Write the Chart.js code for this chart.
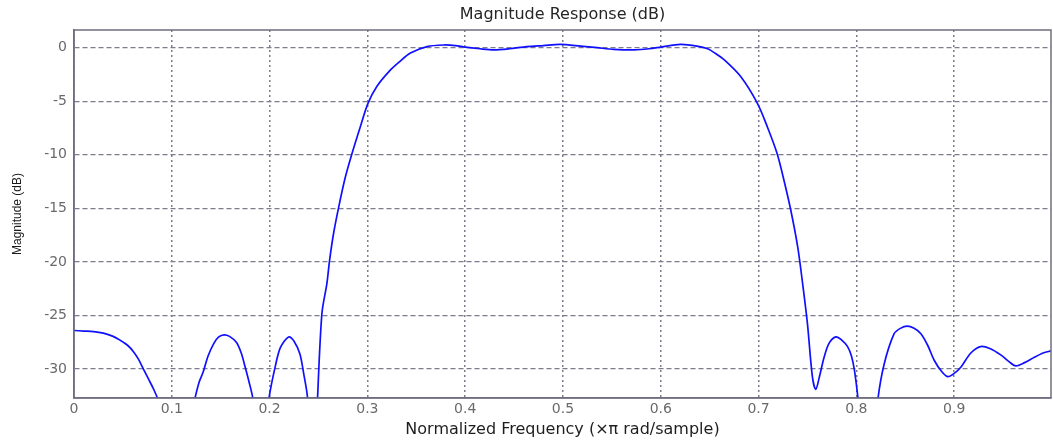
<!DOCTYPE html>
<html>
<head>
<meta charset="utf-8">
<script src="https://cdn.jsdelivr.net/npm/chart.js@4.4.1/dist/chart.umd.min.js"></script>
<style>
  body { margin: 0; background: #fff; }
  #wrap { width: 1053px; height: 443px; }
</style>
</head>
<body>
<div id="wrap"><canvas id="chart" width="1053" height="443"></canvas></div>
<script>
// normalized frequency (x pi rad/sample)
const freqs = [
  0, 0.01, 0.02, 0.03, 0.04, 0.047, 0.055, 0.061, 0.066, 0.071, 0.076, 0.081, 0.086,
  0.092, 0.098, 0.105, 0.112, 0.118, 0.124, 0.128, 0.132, 0.137, 0.143, 0.148, 0.1535,
  0.159, 0.166, 0.171, 0.175, 0.179, 0.183, 0.187, 0.191, 0.195, 0.1996, 0.2057, 0.211,
  0.2194, 0.225, 0.231, 0.235, 0.2388, 0.242, 0.245, 0.247, 0.249, 0.2535, 0.2586, 0.2614,
  0.2655, 0.2706, 0.2774, 0.2842, 0.2927, 0.3006, 0.3098, 0.3234, 0.333, 0.344, 0.361,
  0.378, 0.39, 0.4, 0.415, 0.429, 0.445, 0.463, 0.48, 0.497, 0.518, 0.535, 0.552, 0.573,
  0.588, 0.6, 0.62, 0.637, 0.648, 0.656, 0.665, 0.6817, 0.6988, 0.709, 0.719, 0.726,
  0.733, 0.74, 0.745, 0.75, 0.755, 0.7585, 0.762, 0.767, 0.772, 0.779, 0.785, 0.791,
  0.795, 0.798, 0.8017, 0.806, 0.812, 0.818, 0.822, 0.8285, 0.8386, 0.845, 0.852, 0.859,
  0.866, 0.873, 0.8797, 0.887, 0.8933, 0.9, 0.907, 0.917, 0.927, 0.937, 0.948, 0.956,
  0.963, 0.972, 0.982, 0.991, 0.999
];

// magnitude (dB)
const magnitudes = [
  -26.4, -26.45, -26.5, -26.65, -26.95, -27.3, -27.8, -28.4, -29.1, -30.0, -30.9, -31.8, -32.9,
  -35.5, -40, -48, -40, -35, -32.6, -31.2, -30.3, -28.8, -27.6, -27.0, -26.8,
  -26.95, -27.5, -28.5, -29.8, -31.2, -32.8, -36, -42, -36, -32.6, -29.8, -28.0,
  -27.0, -27.4, -28.6, -30.5, -32.7, -40, -45, -38, -32.8, -24.8, -22.0, -19.8,
  -17.3, -14.9, -12.1, -9.9, -7.4, -5.2, -3.6, -2.1, -1.3, -0.5, 0.1,
  0.25, 0.2, 0.05, -0.1, -0.2, -0.1, 0.1, 0.2, 0.3, 0.15, 0.0, -0.15, -0.2,
  -0.1, 0.05, 0.3, 0.15, -0.1, -0.55, -1.15, -2.7, -5.2, -7.4, -9.9, -12.4,
  -15.2, -18.6, -22.0, -25.8, -30.7, -31.9, -30.8, -28.9, -27.6, -27.0, -27.3, -27.9,
  -28.8, -30.1, -32.8, -37, -45, -37, -32.8, -29.5, -26.7, -26.2, -26.0, -26.2,
  -26.7, -27.8, -29.2, -30.2, -30.7, -30.4, -29.8, -28.5, -27.9, -28.1, -28.7, -29.3,
  -29.7, -29.4, -28.9, -28.5, -28.3
];

const xTicks = [0, 0.1, 0.2, 0.3, 0.4, 0.5, 0.6, 0.7, 0.8, 0.9];
const yTicks = [0, -5, -10, -15, -20, -25, -30];
const chartTitle = 'Magnitude Response (dB)';

const axisColor = '#6f6f80';
const gridColor = '#7c7c8c';
const tickColor = '#6a6a6a';
const font = "'DejaVu Sans', Verdana, sans-serif";

// box around the plot area + title centred over it, like matlab
const frameBox = {
  id: 'frameBox',
  afterDraw(chart) {
    const { ctx, chartArea: a } = chart;
    ctx.save();
    ctx.strokeStyle = axisColor;
    ctx.lineWidth = 1.5;
    ctx.strokeRect(a.left, a.top, a.right - a.left, a.bottom - a.top);
    ctx.fillStyle = '#262626';
    ctx.font = '16px ' + font;
    ctx.textAlign = 'center';
    ctx.textBaseline = 'middle';
    ctx.fillText(chartTitle, (a.left + a.right) / 2, 15);
    ctx.restore();
  }
};

new Chart(document.getElementById('chart'), {
  type: 'line',
  data: {
    datasets: [{
      data: freqs.map((f, i) => ({ x: f, y: magnitudes[i] })),
      borderColor: '#1010ff',
      borderWidth: 1.7,
      pointRadius: 0,
      tension: 0.3,
      fill: false
    }]
  },
  plugins: [frameBox],
  options: {
    responsive: false,
    animation: false,
    layout: { padding: { left: 0, right: 2, top: 30, bottom: 0 } },
    plugins: {
      legend: { display: false },
      tooltip: { enabled: false },
      title: { display: false }
    },
    scales: {
      x: {
        type: 'linear',
        min: 0,
        max: 0.999,
        afterBuildTicks: (s) => { s.ticks = xTicks.map(v => ({ value: v })); },
        afterFit: (s) => { s.height = 45; },
        ticks: {
          color: tickColor,
          font: { family: font, size: 14 },
          padding: 3,
          maxRotation: 0,
          callback: (v) => String(v)
        },
        grid: {
          color: gridColor,
          lineWidth: 1.5,
          drawTicks: false
        },
        border: { color: axisColor, width: 1.5, dash: [2, 3] },
        title: {
          display: true,
          text: 'Normalized Frequency (×π rad/sample)',
          color: '#1e1e1e',
          font: { family: font, size: 16, weight: 'normal' },
          padding: { top: 0, bottom: 4 }
        }
      },
      y: {
        min: -32.7,
        max: 1.65,
        afterBuildTicks: (s) => { s.ticks = yTicks.map(v => ({ value: v })); },
        afterFit: (s) => { s.width = 74; },
        ticks: {
          color: tickColor,
          font: { family: font, size: 14 },
          padding: 7,
          callback: (v) => String(v)
        },
        grid: {
          color: gridColor,
          lineWidth: 1.2,
          drawTicks: false
        },
        border: { color: axisColor, width: 1.5, dash: [5, 3] },
        title: {
          display: true,
          text: 'Magnitude (dB)',
          color: '#1a1a1a',
          font: { family: "'Liberation Sans Narrow', 'Liberation Sans', Arial, sans-serif", size: 12 },
          padding: { top: 10, bottom: 0 }
        }
      }
    }
  }
});
</script>
</body>
</html>
